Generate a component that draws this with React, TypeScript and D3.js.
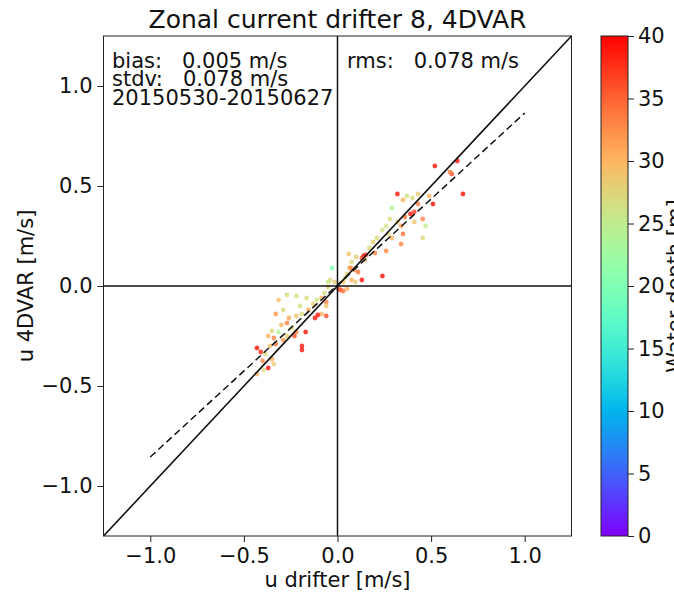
import { useEffect, useRef } from 'react'
import * as d3 from 'd3'

// u drifter [m/s], u 4DVAR [m/s], water depth [m]
const uDrifter = [
  0.52, 0.64, 0.61, 0.60, 0.67, 0.32, 0.51, 0.39, 0.41, 0.49,
  0.43, 0.40, 0.37, 0.35, 0.43, 0.455, 0.41, 0.47, 0.455, 0.36,
  0.34, 0.35, 0.34, 0.29, 0.28, 0.32, 0.26, 0.27, 0.29, 0.24,
  0.21, 0.19, 0.20, 0.26, 0.17, 0.14, 0.15, 0.13, 0.145, 0.10,
  0.075, 0.065, 0.09, 0.11, 0.05, 0.04, 0.03, 0.075, 0.24, 0.13,
  -0.03, 0.06, 0.07, 0.095, 0.016, -0.04, -0.015, -0.05, 0.005, 0.03,
  0.05, -0.05, -0.07, -0.085, -0.06, -0.11, -0.13, -0.165, -0.22, -0.27,
  -0.315, -0.20, -0.155, -0.19, -0.22, -0.26, -0.29, -0.33, -0.30, -0.27,
  -0.245, -0.22, -0.315, -0.35, -0.37, -0.34, -0.29, -0.27, -0.33, -0.36,
  -0.385, -0.35, -0.40, -0.34, -0.43, -0.395, -0.085, -0.06, -0.06, -0.12,
  -0.105, -0.17, -0.19, -0.19, -0.43, -0.41, -0.37, -0.23,
]
const u4dvar = [
  0.60, 0.625, 0.56, 0.57, 0.46, 0.46, 0.41, 0.36, 0.37, 0.45,
  0.46, 0.44, 0.45, 0.43, 0.41, 0.335, 0.32, 0.30, 0.24, 0.345,
  0.30, 0.26, 0.21, 0.39, 0.335, 0.32, 0.30, 0.26, 0.24, 0.28,
  0.24, 0.22, 0.165, 0.175, 0.19, 0.15, 0.155, 0.14, 0.13, 0.145,
  0.12, 0.09, 0.08, 0.07, 0.06, 0.04, 0.02, 0.03, 0.05, 0.03,
  0.09, 0.16, 0.09, 0.02, -0.02, 0.03, 0.02, 0.02, -0.015, -0.025,
  -0.015, -0.005, -0.035, -0.06, -0.08, -0.07, -0.09, -0.06, -0.05, -0.045,
  -0.07, -0.10, -0.12, -0.14, -0.15, -0.16, -0.12, -0.14, -0.195, -0.185,
  -0.21, -0.23, -0.23, -0.225, -0.25, -0.26, -0.27, -0.25, -0.29, -0.30,
  -0.34, -0.365, -0.375, -0.39, -0.44, -0.42, -0.14, -0.10, -0.15, -0.16,
  -0.145, -0.23, -0.30, -0.32, -0.31, -0.33, -0.41, -0.25,
]
const depth = [
  39, 39, 36, 33, 39, 39, 39, 39, 37, 30,
  28, 27, 26, 30, 33, 33, 29, 25, 27, 34,
  31, 34, 33, 24, 27, 28, 26, 27, 30, 26,
  27, 28, 33, 33, 27, 39, 38, 36, 30, 28,
  27, 30, 31, 34, 28, 27, 29, 30, 39, 39,
  20, 29, 33, 28, 36, 27, 28, 26, 35, 34,
  30, 28, 27, 30, 33, 26, 28, 27, 26, 27,
  29, 26, 31, 27, 29, 31, 27, 32, 30, 33,
  27, 33, 24, 27, 30, 33, 32, 28, 34, 29,
  27, 31, 33, 28, 30, 27, 30, 29, 36, 39,
  39, 39, 39, 39, 39, 38, 39, 36,
]

const axisTicks = [-1.0, -0.5, 0.0, 0.5, 1.0]
const depthTicks = [0, 5, 10, 15, 20, 25, 30, 35, 40]
const fitLine = [[-1.0, -0.855], [1.0, 0.865]]

const titleText = 'Zonal current drifter 8, 4DVAR'
const statLines = ['bias:   0.005 m/s', 'stdv:   0.078 m/s', '20150530-20150627']
const rmsText = 'rms:   0.078 m/s'

// matplotlib "rainbow" colormap
const rainbow = (t: number) => {
  const c = (v: number) => Math.round(Math.max(0, Math.min(1, v)) * 255)
  return `rgb(${c(Math.abs(2 * t - 0.5))},${c(Math.sin(Math.PI * t))},${c(Math.cos((Math.PI / 2) * t))})`
}

const FONT = "'DejaVu Sans', sans-serif"
const fmt = (d: number) => d3.format('.1f')(d).replace('-', '\u2212')

export default function App() {
  const svgRef = useRef<SVGSVGElement>(null)

  useEffect(() => {
    if (!svgRef.current) return
    const root = d3.select(svgRef.current)
    root.selectAll('*').remove()

    const L = 103.5, R = 571.5, T = 36, B = 536
    const x = d3.scaleLinear().domain([-1.25, 1.25]).range([L, R])
    const y = d3.scaleLinear().domain([-1.25, 1.25]).range([B, T])

    root.append('rect').attr('width', 674).attr('height', 593).attr('fill', '#fff')

    // points
    const data = uDrifter.map((u, i) => ({ u, v: u4dvar[i], d: depth[i] }))
    root.append('g').selectAll('circle')
      .data(data)
      .join('circle')
      .attr('cx', p => x(p.u))
      .attr('cy', p => y(p.v))
      .attr('r', 2.4)
      .attr('fill', p => rainbow(p.d / 40))
      .attr('opacity', 0.8)

    // zero lines
    root.append('line')
      .attr('x1', x(0)).attr('x2', x(0)).attr('y1', T).attr('y2', B)
      .attr('stroke', '#111').attr('stroke-width', 1.5)
    root.append('line')
      .attr('x1', L).attr('x2', R).attr('y1', y(0)).attr('y2', y(0))
      .attr('stroke', '#111').attr('stroke-width', 1.5)

    // 1:1 line and fit
    root.append('line')
      .attr('x1', x(-1.25)).attr('y1', y(-1.25)).attr('x2', x(1.25)).attr('y2', y(1.25))
      .attr('stroke', '#111').attr('stroke-width', 1.6)
    root.append('path')
      .attr('d', d3.line<number[]>().x(p => x(p[0])).y(p => y(p[1]))(fitLine))
      .attr('fill', 'none').attr('stroke', '#111').attr('stroke-width', 1.5)
      .attr('stroke-dasharray', '7,4')

    // frame
    root.append('rect')
      .attr('x', L).attr('y', T).attr('width', R - L).attr('height', B - T)
      .attr('fill', 'none').attr('stroke', '#222').attr('stroke-width', 1)

    // axes
    const styleAxis = (g: any) => {
      g.select('.domain').remove()
      g.selectAll('.tick line').attr('stroke', '#222')
      g.selectAll('text').attr('fill', '#111').attr('font-size', 21).attr('font-family', FONT)
    }
    root.append('g')
      .attr('transform', `translate(0,${B})`)
      .call(d3.axisBottom(x).tickValues(axisTicks).tickSize(6).tickPadding(6).tickFormat(d => fmt(+d)))
      .call(styleAxis)
    root.append('g')
      .attr('transform', `translate(${L},0)`)
      .call(d3.axisLeft(y).tickValues(axisTicks).tickSize(6).tickPadding(5).tickFormat(d => fmt(+d)))
      .call(styleAxis)

    // axis labels and title
    root.append('text')
      .attr('x', (L + R) / 2).attr('y', 587).attr('text-anchor', 'middle')
      .attr('font-size', 21).attr('font-family', FONT).attr('fill', '#111')
      .text('u drifter [m/s]')
    root.append('text')
      .attr('transform', `translate(33,${(T + B) / 2}) rotate(-90)`)
      .attr('text-anchor', 'middle')
      .attr('font-size', 21).attr('font-family', FONT).attr('fill', '#111')
      .text('u 4DVAR [m/s]')
    root.append('text')
      .attr('x', (L + R) / 2).attr('y', 28).attr('text-anchor', 'middle')
      .attr('font-size', 25).attr('font-family', FONT).attr('fill', '#111')
      .text(titleText)

    // stats
    const statY = [68, 86, 105]
    statLines.forEach((s, i) => {
      root.append('text')
        .attr('x', 112).attr('y', statY[i])
        .attr('font-size', 21).attr('font-family', FONT).attr('fill', '#111')
        .style('white-space', 'pre')
        .text(s)
    })
    root.append('text')
      .attr('x', 347).attr('y', 68)
      .attr('font-size', 21).attr('font-family', FONT).attr('fill', '#111')
      .style('white-space', 'pre')
      .text(rmsText)

    // colorbar
    const cbL = 601, cbW = 27
    const c = d3.scaleLinear().domain([0, 40]).range([B, T])
    const grad = root.append('defs').append('linearGradient')
      .attr('id', 'cb-grad').attr('x1', 0).attr('y1', 1).attr('x2', 0).attr('y2', 0)
    d3.range(0, 41).forEach(s => {
      grad.append('stop').attr('offset', `${s * 2.5}%`).attr('stop-color', rainbow(s / 40))
    })
    root.append('rect')
      .attr('x', cbL).attr('y', T).attr('width', cbW).attr('height', B - T)
      .attr('fill', 'url(#cb-grad)').attr('stroke', '#222').attr('stroke-width', 1)
    root.append('g')
      .attr('transform', `translate(${cbL + cbW},0)`)
      .call(d3.axisRight(c).tickValues(depthTicks).tickSize(6).tickPadding(4))
      .call(styleAxis)
    root.append('text')
      .attr('transform', `translate(682,${(T + B) / 2}) rotate(-90)`)
      .attr('text-anchor', 'middle')
      .attr('font-size', 21).attr('font-family', FONT).attr('fill', '#111')
      .text('Water depth [m]')
  }, [])

  return (
    <svg ref={svgRef} width={674} height={593}
      style={{ position: 'absolute', left: 0, top: 0, display: 'block' }} />
  )
}
